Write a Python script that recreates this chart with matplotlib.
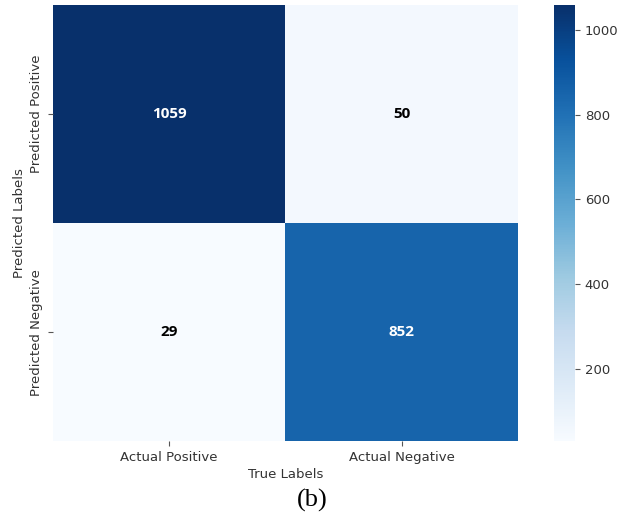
import numpy as np
import matplotlib.pyplot as plt
import seaborn as sns

# confusion matrix: rows = predicted, columns = actual
row_labels = ['Predicted Positive', 'Predicted Negative']
col_labels = ['Actual Positive', 'Actual Negative']
counts = np.array([[1059, 50],
                   [29, 852]])

fig = plt.figure(figsize=(6.19, 5.22), dpi=100)
ax = fig.add_axes([0.0856, 0.155, 0.751, 0.835])
cax = fig.add_axes([0.895, 0.155, 0.034, 0.835])

sns.heatmap(counts, annot=True, fmt='d', cmap='Blues', ax=ax, cbar_ax=cax,
            xticklabels=col_labels, yticklabels=row_labels,
            annot_kws={'fontsize': 11, 'fontweight': 'bold',
                       'family': 'Open Sans'})

# dark annotations in pure black
for t in ax.texts:
    if t.get_color() != 'w':
        t.set_color('black')

ax.set_xlabel('True Labels', fontsize=9.5, color='#333333', labelpad=3)
ax.set_ylabel('Predicted Labels', fontsize=9.5, color='#333333', labelpad=3)
ax.tick_params(labelsize=9.5, labelcolor='#333333', color='#555555')
cax.tick_params(labelsize=9.5, labelcolor='#333333', color='#555555')
cax.set_yticks([200, 400, 600, 800, 1000])

fig.text(0.505, 0.042, '(b)', ha='center', va='center',
         fontsize=19, family='Liberation Serif')

fig.savefig('out.png', dpi=100)
